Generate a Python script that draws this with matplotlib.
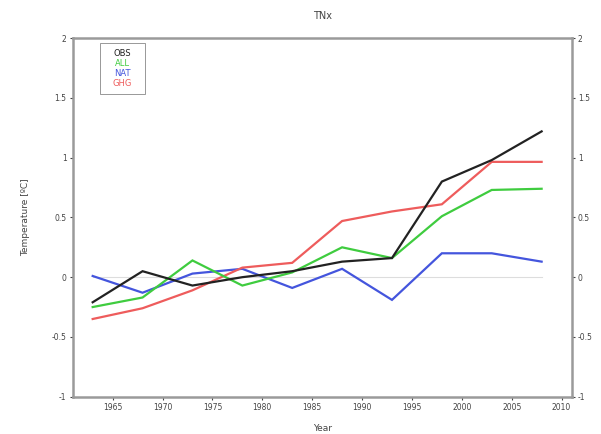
import matplotlib
matplotlib.use("Agg")
import matplotlib.pyplot as plt
from matplotlib.patches import Rectangle

# Five-year means, anomalies in degrees C
years = [1963, 1968, 1973, 1978, 1983, 1988, 1993, 1998, 2003, 2008]
obs = [-0.21, 0.05, -0.07, 0.00, 0.05, 0.13, 0.16, 0.80, 0.98, 1.22]
all_forcing = [-0.25, -0.17, 0.14, -0.07, 0.04, 0.25, 0.16, 0.51, 0.73, 0.74]
nat = [0.01, -0.13, 0.03, 0.07, -0.09, 0.07, -0.19, 0.20, 0.20, 0.13]
ghg = [-0.35, -0.26, -0.11, 0.08, 0.12, 0.47, 0.55, 0.61, 0.965, 0.965]

series_names = ["OBS", "ALL", "NAT", "GHG"]
x_ticks = [1965, 1970, 1975, 1980, 1985, 1990, 1995, 2000, 2005, 2010]
y_ticks = [-1, -0.5, 0, 0.5, 1, 1.5, 2]
y_tick_labels = ["-1", "-0.5", "0", "0.5", "1", "1.5", "2"]

colors = {"OBS": "#222222", "ALL": "#3fcc3f", "NAT": "#4455dd", "GHG": "#ee5c5c"}
text_color = "#444444"
spine_color = "#9a9a9a"

fig = plt.figure(figsize=(6.01, 4.34), dpi=100)
ax = fig.add_axes([0.121, 0.086, 0.830, 0.826])

ax.plot([years[0], years[-1]], [0, 0], color="#dddddd", lw=0.8, zorder=1)

data = {"OBS": obs, "ALL": all_forcing, "NAT": nat, "GHG": ghg}
for name in ["NAT", "GHG", "ALL", "OBS"]:
    ax.plot(years, data[name], color=colors[name], lw=1.6, zorder=2,
            solid_joinstyle="miter")

ax.set_xlim(1961, 2011)
ax.set_ylim(-1, 2)
ax.set_xticks(x_ticks)
ax.set_xticklabels([str(t) for t in x_ticks])
ax.set_yticks(y_ticks)
ax.set_yticklabels(y_tick_labels)
ax.tick_params(axis="both", labelsize=5.5, colors=text_color, length=2.5,
               width=0.8, direction="out", pad=2)
ax.tick_params(axis="y", right=True, labelright=True)
for s in ax.spines.values():
    s.set_color(spine_color)
    s.set_linewidth(1.8)

ax.set_title("TNx", fontsize=7, color=text_color, pad=14)
ax.set_xlabel("Year", fontsize=6.5, color=text_color, labelpad=9)
ax.set_ylabel("Temperature [\u00baC]", fontsize=6.5, color=text_color, labelpad=15.5)

# Legend: coloured series names centred in a small boxed panel
box = Rectangle((0.055, 0.845), 0.090, 0.142, transform=ax.transAxes,
                facecolor="white", edgecolor="#888888", lw=0.6, zorder=5)
ax.add_patch(box)
for i, name in enumerate(series_names):
    ax.text(0.100, 0.958 - i * 0.028, name, transform=ax.transAxes,
            ha="center", va="center", fontsize=6, color=colors[name], zorder=6)

fig.savefig("out.png", dpi=100, facecolor="white")
